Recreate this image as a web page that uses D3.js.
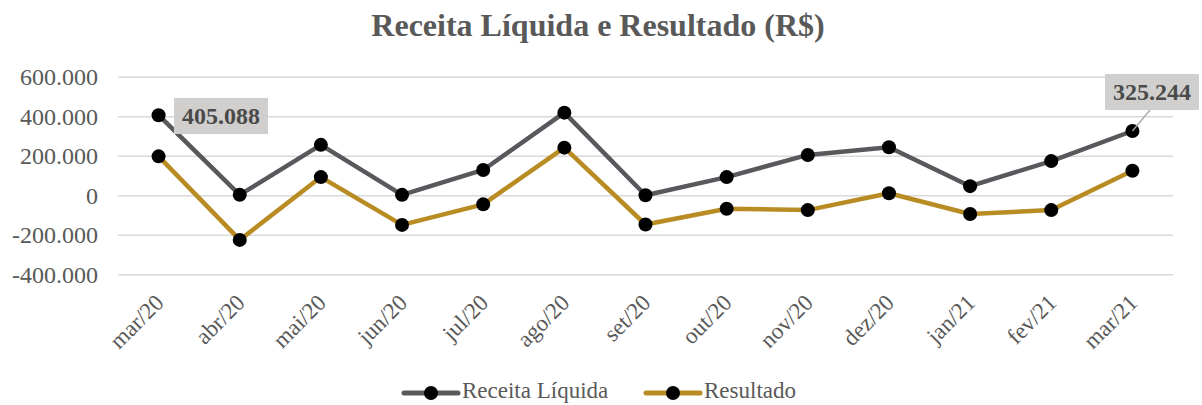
<!DOCTYPE html>
<html>
<head>
<meta charset="utf-8">
<script src="https://cdn.jsdelivr.net/npm/d3@7"></script>
<style>
  body { margin: 0; background: #fff; }
  svg, svg text { font-family: "Liberation Serif", "Times New Roman", serif !important; }
</style>
</head>
<body>
<svg id="chart" width="1202" height="405"></svg>
<script>
const months = ["mar/20", "abr/20", "mai/20", "jun/20", "jul/20", "ago/20", "set/20",
  "out/20", "nov/20", "dez/20", "jan/21", "fev/21", "mar/21"];
const receita = [405088, 2000, 255000, 2000, 128000, 418000, 0, 92000, 204000, 243000, 46000, 173000, 325244];
const resultado = [197000, -226000, 92000, -150000, -46000, 241000, -148000, -68000, -75000, 10000, -95000, -75000, 124000];
const yTicks = [-400000, -200000, 0, 200000, 400000, 600000];

const series = [
  { name: "Receita Líquida", values: receita, color: "#5a585c" },
  { name: "Resultado", values: resultado, color: "#b88c23" }
];

const fmt = d3.formatLocale({ thousands: ".", grouping: [3], decimal: ",", currency: ["R$", ""], minus: "-" }).format(",.0f");

const svg = d3.select("#chart");
const textColor = "#595959";

const x = d3.scalePoint().domain(months).range([118, 1173]).padding(0.5);
const y = d3.scaleLinear().domain([-400000, 600000]).range([274.3, 76.7]);

// title
svg.append("text")
  .attr("x", 598).attr("y", 36)
  .attr("text-anchor", "middle")
  .attr("font-size", "32px").attr("font-weight", "bold")
  .attr("fill", textColor)
  .text("Receita Líquida e Resultado (R$)");

// gridlines + y labels
const yAxis = svg.append("g")
  .call(d3.axisLeft(y).tickValues(yTicks).tickFormat(fmt).tickSize(0).tickPadding(0));
yAxis.attr("font-family", null).attr("font-size", null);
yAxis.select(".domain").remove();
yAxis.selectAll(".tick").insert("line", "text")
  .attr("x1", 118).attr("x2", 1173)
  .attr("stroke", "#d9d9d9").attr("stroke-width", 1.5);
yAxis.selectAll("text")
  .attr("x", 98).attr("dy", "0.34em")
  .attr("font-size", "24px").attr("fill", textColor);

// x labels
const xAxis = svg.append("g")
  .attr("transform", "translate(0,282)")
  .call(d3.axisBottom(x).tickSize(0).tickPadding(0));
xAxis.attr("font-family", null).attr("font-size", null);
xAxis.select(".domain").remove();
xAxis.selectAll("text")
  .attr("font-size", "23px").attr("fill", textColor)
  .attr("text-anchor", "end")
  .attr("y", 0).attr("dy", 0)
  .attr("transform", "translate(6,22) rotate(-45)");

// lines
const line = d3.line().x((d, i) => x(months[i])).y(d => y(d));
series.forEach(s => {
  svg.append("path")
    .datum(s.values)
    .attr("fill", "none")
    .attr("stroke", s.color)
    .attr("stroke-width", 4.5)
    .attr("stroke-linejoin", "round")
    .attr("d", line);
  svg.append("g").selectAll("circle")
    .data(s.values)
    .join("circle")
    .attr("cx", (d, i) => x(months[i]))
    .attr("cy", d => y(d))
    .attr("r", 7)
    .attr("fill", "#000");
});

// data labels
function dataLabel(i, bx, by, leader) {
  const v = receita[i];
  const g = svg.append("g");
  if (leader) {
    g.append("line")
      .attr("x1", x(months[i])).attr("y1", y(v))
      .attr("x2", bx + 45).attr("y2", by + 36)
      .attr("stroke", "#a6a6a6").attr("stroke-width", 1.3);
  }
  g.append("rect")
    .attr("x", bx).attr("y", by).attr("width", 94).attr("height", 36)
    .attr("fill", "#d0cfcd");
  g.append("text")
    .attr("x", bx + 47).attr("y", by + 26)
    .attr("text-anchor", "middle")
    .attr("font-size", "24px").attr("font-weight", "bold")
    .attr("fill", "#4a4a4a")
    .text(fmt(v));
}
dataLabel(0, 174, 98, false);
dataLabel(12, 1105, 74, true);

// legend
const legend = svg.append("g").attr("transform", "translate(0,393)");
const legendX = [404, 646];
series.forEach((s, k) => {
  const lg = legend.append("g").attr("transform", `translate(${legendX[k]},0)`);
  lg.append("line").attr("x1", 0).attr("x2", 54)
    .attr("stroke", s.color).attr("stroke-width", 5).attr("stroke-linecap", "round");
  lg.append("circle").attr("cx", 27).attr("r", 7).attr("fill", "#000");
  lg.append("text").attr("x", 58).attr("y", 5)
    .attr("font-size", "23px").attr("fill", textColor)
    .text(s.name);
});
</script>
</body>
</html>
